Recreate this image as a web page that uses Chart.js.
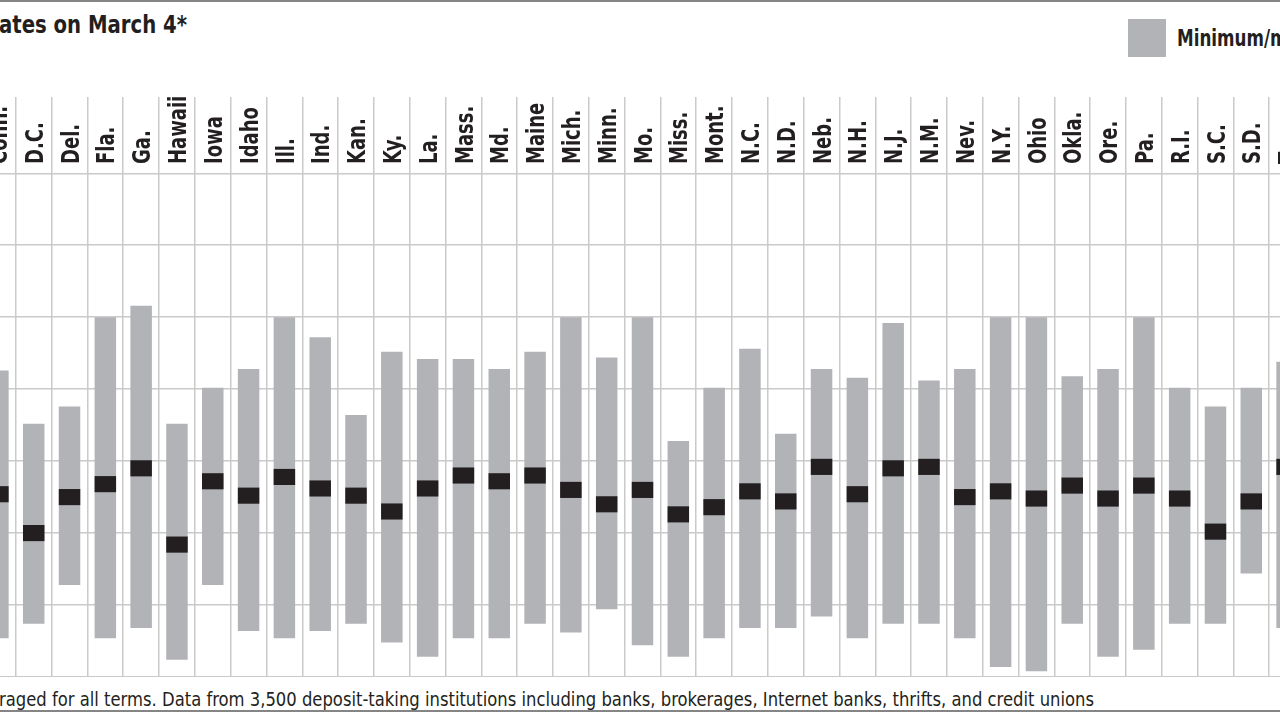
<!DOCTYPE html>
<html>
<head>
<meta charset="utf-8">
<script src="https://cdn.jsdelivr.net/npm/chart.js@4.4.1/dist/chart.umd.min.js"></script>
<style>
  html, body { margin: 0; width: 1280px; height: 720px; overflow: hidden; background: #fff; }
  body { position: relative; font-family: "DejaVu Sans Condensed", "DejaVu Sans", sans-serif; color: #231f20; }
  .rule { position: absolute; left: 0; width: 1280px; height: 2px; background: #858585; }
  .squeeze { transform-origin: 0 0; white-space: nowrap; }
  #title { position: absolute; left: -1px; top: 12px; font-size: 25px; line-height: 25px; font-weight: bold; transform: scaleX(0.875); }
  #legend { position: absolute; left: 1128px; top: 19px; white-space: nowrap; }
  #legend .box { position: absolute; left: 0; top: 0; width: 38px; height: 38px; background: #b1b3b6; }
  #legend .txt { position: absolute; left: 49px; top: 8px; font-size: 23px; line-height: 23px; font-weight: bold; transform: scaleX(0.81); }
  #note { position: absolute; left: -1px; top: 690px; font-size: 19px; line-height: 19px; transform: scaleX(0.96); }
  #wrap { position: absolute; left: -20px; top: 97px; width: 1325px; height: 580px; }
</style>
</head>
<body>
<div class="rule" style="top:0"></div>
<div id="title" class="squeeze">ates on March 4*</div>
<div id="legend"><div class="box"></div><div class="txt squeeze">Minimum/maximum</div></div>
<div id="wrap"><canvas id="rates"></canvas></div>
<div id="note" class="squeeze">raged for all terms. Data from 3,500 deposit-taking institutions including banks, brokerages, Internet banks, thrifts, and credit unions</div>
<div class="rule" style="top:710px"></div>
<script>
const states = ['Conn.', 'D.C.', 'Del.', 'Fla.', 'Ga.', 'Hawaii', 'Iowa', 'Idaho', 'Ill.', 'Ind.', 'Kan.', 'Ky.', 'La.',
  'Mass.', 'Md.', 'Maine', 'Mich.', 'Minn.', 'Mo.', 'Miss.', 'Mont.', 'N.C.', 'N.D.', 'Neb.', 'N.H.', 'N.J.', 'N.M.',
  'Nev.', 'N.Y.', 'Ohio', 'Okla.', 'Ore.', 'Pa.', 'R.I.', 'S.C.', 'S.D.', 'Tenn.'];

const maxRate = [2.13, 1.76, 1.88, 2.50, 2.58, 1.76, 2.01, 2.14, 2.50, 2.36, 1.82, 2.26, 2.21,
  2.21, 2.14, 2.26, 2.50, 2.22, 2.50, 1.64, 2.01, 2.28, 1.69, 2.14, 2.08, 2.46, 2.06,
  2.14, 2.50, 2.50, 2.09, 2.14, 2.50, 2.01, 1.88, 2.01, 2.19];

const minRate = [0.27, 0.37, 0.64, 0.27, 0.34, 0.12, 0.64, 0.32, 0.27, 0.32, 0.37, 0.24, 0.14,
  0.27, 0.27, 0.37, 0.31, 0.47, 0.22, 0.14, 0.27, 0.34, 0.34, 0.42, 0.27, 0.37, 0.37,
  0.27, 0.07, 0.04, 0.37, 0.14, 0.19, 0.37, 0.37, 0.72, 0.34];

const avgRate = [1.27, 1.00, 1.25, 1.34, 1.45, 0.92, 1.36, 1.26, 1.39, 1.31, 1.26, 1.15, 1.31,
  1.40, 1.36, 1.40, 1.30, 1.20, 1.30, 1.13, 1.18, 1.29, 1.22, 1.46, 1.27, 1.45, 1.46,
  1.25, 1.29, 1.24, 1.33, 1.24, 1.33, 1.24, 1.01, 1.22, 1.46];

const yTicks = [0, 0.5, 1, 1.5, 2, 2.5, 3, 3.5];

const barGrey = '#b1b3b6';
const ink = '#231f20';
const gridGrey = '#cacaca';
const markHalf = 0.056; // half the height of the average marker

// state names written upwards inside the top band of the plot
const stateLabels = {
  id: 'stateLabels',
  afterDatasetsDraw(chart) {
    const { ctx, scales: { x }, chartArea } = chart;
    const size = 25;
    ctx.save();
    ctx.fillStyle = ink;
    ctx.font = 'bold ' + size + 'px "DejaVu Sans Condensed", "DejaVu Sans", sans-serif';
    ctx.textAlign = 'left';
    ctx.textBaseline = 'alphabetic';
    states.forEach((s, i) => {
      ctx.save();
      ctx.translate(x.getPixelForValue(i), chartArea.top + 67);
      ctx.rotate(-Math.PI / 2);
      ctx.scale(0.8, 1);
      ctx.fillText(s, 0, size * 0.365);
      ctx.restore();
    });
    ctx.restore();
  }
};

new Chart(document.getElementById('rates'), {
  type: 'bar',
  data: {
    labels: states,
    datasets: [
      {
        label: 'Minimum/maximum',
        data: states.map((s, i) => [minRate[i], maxRate[i]]),
        backgroundColor: barGrey,
        grouped: false,
        order: 2
      },
      {
        label: 'Average',
        data: states.map((s, i) => [avgRate[i] - markHalf, avgRate[i] + markHalf]),
        backgroundColor: ink,
        grouped: false,
        order: 1
      }
    ]
  },
  options: {
    responsive: true,
    maintainAspectRatio: false,
    animation: false,
    layout: { padding: 0 },
    categoryPercentage: 1,
    barPercentage: 0.6,
    plugins: {
      legend: { display: false },
      title: { display: false },
      tooltip: { enabled: false }
    },
    scales: {
      x: {
        grid: { color: gridGrey, lineWidth: 1.5, drawTicks: false, offset: true },
        border: { display: false },
        ticks: { display: false }
      },
      y: {
        min: 0,
        max: 4.03,
        afterBuildTicks: axis => { axis.ticks = yTicks.map(v => ({ value: v })); },
        grid: { color: gridGrey, lineWidth: 1.5, drawTicks: false },
        border: { display: false },
        ticks: { display: false }
      }
    }
  },
  plugins: [stateLabels]
});
</script>
</body>
</html>
